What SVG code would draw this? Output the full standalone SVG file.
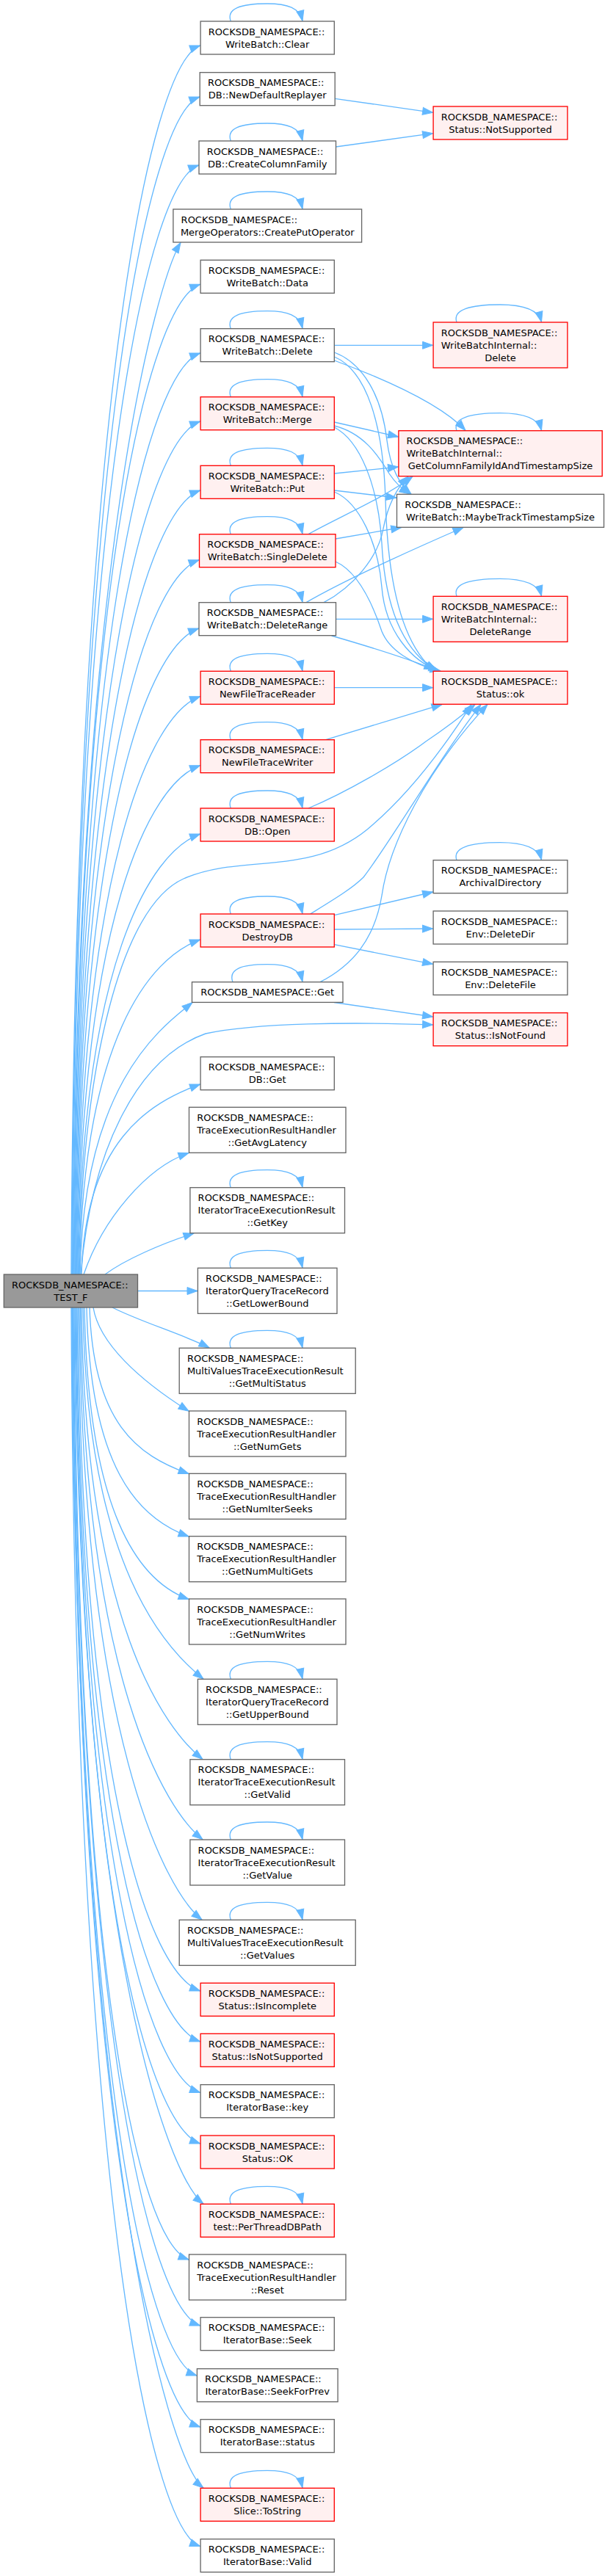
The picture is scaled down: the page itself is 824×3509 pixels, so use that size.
<svg xmlns="http://www.w3.org/2000/svg" width="824" height="3509" viewBox="0 0 824 3509">
<style>
.e{fill:none;stroke:#63b8ff;stroke-width:1.33;marker-end:url(#ah)}
.n{fill:#fff;stroke:#666;stroke-width:1.33}
.r{fill:#fff0f0;stroke:#f00;stroke-width:1.33}
.m{fill:#999;stroke:#666;stroke-width:1.33}
text{font-family:"DejaVu Sans",sans-serif;font-size:13px;fill:#000}
.c{text-anchor:middle}
</style>
<defs>
<marker id="ah" markerWidth="15" markerHeight="11" refX="14" refY="5" orient="auto" markerUnits="userSpaceOnUse" overflow="visible"><path d="M0,0 L14,5 L0,10 z" fill="#63b8ff" stroke="#63b8ff" stroke-width="1"/></marker>
</defs>
<rect x="0" y="0" width="824" height="3509" fill="#fff"/>
<g id="edges">
<path class="e" d="M97,1736 C102,564 203,87 272.6,62"/>
<path class="e" d="M97.8,1736 C102.8,613 202,157 271.8,132"/>
<path class="e" d="M98.6,1736 C103.6,678 201,250 270.6,225"/>
<path class="e" d="M99.4,1736 C104.4,752 215,382 246,330.5"/>
<path class="e" d="M100.2,1736 C105.2,792 203,412 272.6,387.3"/>
<path class="e" d="M101,1736 C106,857 203,506 272.6,481"/>
<path class="e" d="M101.8,1736 C106.8,922.6 203,599 272.6,574"/>
<path class="e" d="M102.6,1736 C107.6,988 203,693 272.6,668"/>
<path class="e" d="M103.4,1736 C108.4,1054.7 201.5,787.7 271.1,762.7"/>
<path class="e" d="M104.2,1736 C109.2,1120 201,881 270.6,856"/>
<path class="e" d="M105,1736 C110,1185 203,973.7 272.6,948.7"/>
<path class="e" d="M105.8,1736 C110.8,1250.7 203,1067.7 272.6,1042.7"/>
<path class="e" d="M106.6,1736 C111.6,1316 203,1161 272.6,1136"/>
<path class="e" d="M107.4,1736 C112,1450 165,1235 250,1197 C330,1162 420,1195 500,1130 C560,1080 610,1010 642,959.8"/>
<path class="e" d="M108.2,1736 C113.2,1416.8 203,1305 272.6,1280"/>
<path class="e" d="M109,1736 C114,1476 219,1400 262,1365.6"/>
<path class="e" d="M110,1736 C125,1560 190,1440 280,1408 C350,1393 480,1392 589.6,1396"/>
<path class="e" d="M111,1736 C116,1555 203,1502 272.6,1477"/>
<path class="e" d="M114,1736 C140,1660 200,1590 257,1570.5"/>
<path class="e" d="M143,1736 C170,1716 220,1694 264,1680"/>
<path class="e" d="M187.5,1758.5 L269,1758.5"/>
<path class="e" d="M153,1781 C190,1800 250,1818 285,1835.8"/>
<path class="e" d="M127,1781 C135,1830 190,1880 257.1,1922.3"/>
<path class="e" d="M122,1781 C127,1939.5 187.5,1982.5 257.1,2007.5"/>
<path class="e" d="M118,1781 C123,1999.4 187.5,2068 257.1,2093"/>
<path class="e" d="M115,1781 C120,2059 187.5,2153.5 257.1,2178.5"/>
<path class="e" d="M113,1781 C118,2135 227,2247 277,2287"/>
<path class="e" d="M111,1781 C116,2212 226,2356.7 276,2396.4"/>
<path class="e" d="M109.5,1781 C114.5,2288.5 226,2466 276,2505.7"/>
<path class="e" d="M108,1781 C113,2365 225,2575.3 275,2615"/>
<path class="e" d="M106.5,1781 C111.5,2432.7 203,2687 272.6,2712"/>
<path class="e" d="M105,1781 C110,2481 203,2756 272.6,2781"/>
<path class="e" d="M104,1781 C109,2529.6 203,2825.5 272.6,2850.5"/>
<path class="e" d="M103,1781 C108,2578.3 203,2895 272.6,2920"/>
<path class="e" d="M102,1781 C107,2636 227,2962.3 277,3002"/>
<path class="e" d="M101,1781 C106,2689 187.5,3053 257.1,3078"/>
<path class="e" d="M100,1781 C105,2752 203,3143 272.6,3168"/>
<path class="e" d="M99.2,1781 C104.2,2799.5 198.4,3211 268,3236"/>
<path class="e" d="M98.5,1781 C103.5,2848.5 203,3281 272.6,3306"/>
<path class="e" d="M97.8,1781 C102.8,2906.8 227,3349.3 277,3389"/>
<path class="e" d="M97,1781 C102,2962.4 203,3443.5 272.6,3468.5"/>
<path class="e" d="M456.2,134.3 L589.6,153.3"/>
<path class="e" d="M457.5,200 L589.6,181.7"/>
<path class="e" d="M455.3,470.3 L589.6,470.3"/>
<path class="e" d="M455.3,491 C520,515 600,550 634,586.3"/>
<path class="e" d="M455.3,480 C495,495 520,540 527,600 C532,640 545,660 560,673"/>
<path class="e" d="M455.3,486 C500,505 522,580 525,680 C528,800 550,880 592,914"/>
<path class="e" d="M455.3,575 L542.5,595"/>
<path class="e" d="M455.3,580 C495,590 515,620 530,645 C540,660 550,668 558,673"/>
<path class="e" d="M455.3,582 C490,600 515,660 520,740 C525,840 555,890 595,914"/>
<path class="e" d="M455.3,645 L542.5,636"/>
<path class="e" d="M455.3,668 L540,678"/>
<path class="e" d="M455.3,670 C490,685 515,740 520,800 C525,860 560,900 598,914"/>
<path class="e" d="M420,727.7 C460,705 520,680 562,649"/>
<path class="e" d="M457,734 L546.7,718.5"/>
<path class="e" d="M457,765 C490,780 510,830 520,860 C530,885 560,905 600,914"/>
<path class="e" d="M457.5,843.3 L589.6,843.3"/>
<path class="e" d="M417,820.7 C470,790 570,745 631,718.5"/>
<path class="e" d="M441,820.7 C480,800 515,760 522,720 C528,690 540,665 556,649"/>
<path class="e" d="M451.6,866 C500,880 550,895 592,912"/>
<path class="e" d="M455.3,936.7 L589.6,936.7"/>
<path class="e" d="M443.7,1007.7 L602,959.6"/>
<path class="e" d="M420,1101 C470,1080 540,1040 580,1010 C610,990 635,970 647,959.6"/>
<path class="e" d="M422.6,1245 C455,1225 480,1210 495,1195 C530,1150 600,1030 655,959.6"/>
<path class="e" d="M436,1337.7 C480,1315 510,1280 520,1220 C530,1150 580,1050 664,959.6"/>
<path class="e" d="M455.3,1246.7 L589.6,1215"/>
<path class="e" d="M455.3,1266 L589.6,1265"/>
<path class="e" d="M455.3,1286.7 L589.6,1313.3"/>
<path class="e" d="M455,1365.5 L589.6,1385"/>
<g id="loops2">
<path class="e" transform="translate(0,29)" d="M314.3,0 C308,-17 327,-24 364,-24 C392,-24 408,-18 412,-0.5"/>
<path class="e" transform="translate(0,192)" d="M314.3,0 C308,-17 327,-24 364,-24 C392,-24 408,-18 412,-0.5"/>
<path class="e" transform="translate(0,285)" d="M314.3,0 C308,-17 327,-24 364,-24 C392,-24 408,-18 412,-0.5"/>
<path class="e" transform="translate(0,447.7)" d="M314.3,0 C308,-17 327,-24 364,-24 C392,-24 408,-18 412,-0.5"/>
<path class="e" transform="translate(0,540.7)" d="M314.3,0 C308,-17 327,-24 364,-24 C392,-24 408,-18 412,-0.5"/>
<path class="e" transform="translate(0,634.3)" d="M314.3,0 C308,-17 327,-24 364,-24 C392,-24 408,-18 412,-0.5"/>
<path class="e" transform="translate(0,727.7)" d="M314.3,0 C308,-17 327,-24 364,-24 C392,-24 408,-18 412,-0.5"/>
<path class="e" transform="translate(0,820.7)" d="M314.3,0 C308,-17 327,-24 364,-24 C392,-24 408,-18 412,-0.5"/>
<path class="e" transform="translate(0,914.3)" d="M314.3,0 C308,-17 327,-24 364,-24 C392,-24 408,-18 412,-0.5"/>
<path class="e" transform="translate(0,1007.7)" d="M314.3,0 C308,-17 327,-24 364,-24 C392,-24 408,-18 412,-0.5"/>
<path class="e" transform="translate(0,1101)" d="M314.3,0 C308,-17 327,-24 364,-24 C392,-24 408,-18 412,-0.5"/>
<path class="e" transform="translate(0,1245)" d="M314.3,0 C308,-17 327,-24 364,-24 C392,-24 408,-18 412,-0.5"/>
<path class="e" transform="translate(0,1337.7)" d="M317,0 C311,-17 327,-24 364,-24 C392,-24 408,-18 412,-0.5"/>
<path class="e" transform="translate(0,1617.7)" d="M314.3,0 C308,-17 327,-24 364,-24 C392,-24 408,-18 412,-0.5"/>
<path class="e" transform="translate(0,1727.3)" d="M314.3,0 C308,-17 327,-24 364,-24 C392,-24 408,-18 412,-0.5"/>
<path class="e" transform="translate(0,1836.3)" d="M314.3,0 C308,-17 327,-24 364,-24 C392,-24 408,-18 412,-0.5"/>
<path class="e" transform="translate(0,2287.3)" d="M314.3,0 C308,-17 327,-24 364,-24 C392,-24 408,-18 412,-0.5"/>
<path class="e" transform="translate(0,2396.7)" d="M314.3,0 C308,-17 327,-24 364,-24 C392,-24 408,-18 412,-0.5"/>
<path class="e" transform="translate(0,2506)" d="M314.3,0 C308,-17 327,-24 364,-24 C392,-24 408,-18 412,-0.5"/>
<path class="e" transform="translate(0,2615.3)" d="M314.3,0 C308,-17 327,-24 364,-24 C392,-24 408,-18 412,-0.5"/>
<path class="e" transform="translate(0,3002.3)" d="M314.3,0 C308,-17 327,-24 364,-24 C392,-24 408,-18 412,-0.5"/>
<path class="e" transform="translate(0,3389.3)" d="M314.3,0 C308,-17 327,-24 364,-24 C392,-24 408,-18 412,-0.5"/>
</g>
<g id="loops3">
<path class="e" transform="translate(0,439)" d="M622,0 C616,-17 640,-24 681,-24 C712,-24 733,-18 737.5,-0.5"/>
<path class="e" transform="translate(0,586.7)" d="M622,0 C616,-17 640,-24 681,-24 C712,-24 733,-18 737.5,-0.5"/>
<path class="e" transform="translate(0,812.3)" d="M622,0 C616,-17 640,-24 681,-24 C712,-24 733,-18 737.5,-0.5"/>
<path class="e" transform="translate(0,1171.7)" d="M622,0 C616,-17 640,-24 681,-24 C712,-24 733,-18 737.5,-0.5"/>
</g>
</g>
<g id="n_testf"><rect class="m" x="5.3" y="1736" width="182.2" height="45"/><text x="16" y="1754.5">ROCKSDB_NAMESPACE::</text><text class="c" x="96.4" y="1771.5">TEST_F</text></g>
<g id="n_clear"><rect class="n" x="273.1" y="29" width="182.2" height="45"/><text x="283.8" y="47.5">ROCKSDB_NAMESPACE::</text><text class="c" x="364.2" y="64.5">WriteBatch::Clear</text></g>
<g id="n_ndr"><rect class="n" x="272.2" y="98.7" width="184" height="45"/><text x="282.9" y="117.2">ROCKSDB_NAMESPACE::</text><text class="c" x="364.2" y="134.2">DB::NewDefaultReplayer</text></g>
<g id="n_ccf"><rect class="n" x="271" y="192" width="186.5" height="45"/><text x="281.7" y="210.5">ROCKSDB_NAMESPACE::</text><text class="c" x="364.2" y="227.5">DB::CreateColumnFamily</text></g>
<g id="n_cpo"><rect class="n" x="235.9" y="285" width="256.7" height="45"/><text x="246.6" y="303.5">ROCKSDB_NAMESPACE::</text><text class="c" x="364.2" y="320.5">MergeOperators::CreatePutOperator</text></g>
<g id="n_data"><rect class="n" x="273.1" y="354.3" width="182.2" height="45"/><text x="283.8" y="372.8">ROCKSDB_NAMESPACE::</text><text class="c" x="364.2" y="389.8">WriteBatch::Data</text></g>
<g id="n_delete"><rect class="n" x="273.1" y="447.7" width="182.2" height="45"/><text x="283.8" y="466.2">ROCKSDB_NAMESPACE::</text><text class="c" x="364.2" y="483.2">WriteBatch::Delete</text></g>
<g id="n_merge"><rect class="r" x="273.1" y="540.7" width="182.2" height="45"/><text x="283.8" y="559.2">ROCKSDB_NAMESPACE::</text><text class="c" x="364.2" y="576.2">WriteBatch::Merge</text></g>
<g id="n_put"><rect class="r" x="273.1" y="634.3" width="182.2" height="45"/><text x="283.8" y="652.8">ROCKSDB_NAMESPACE::</text><text class="c" x="364.2" y="669.8">WriteBatch::Put</text></g>
<g id="n_sdel"><rect class="r" x="271.5" y="727.7" width="185.5" height="45"/><text x="282.2" y="746.2">ROCKSDB_NAMESPACE::</text><text class="c" x="364.2" y="763.2">WriteBatch::SingleDelete</text></g>
<g id="n_drange"><rect class="n" x="271" y="820.7" width="186.5" height="45"/><text x="281.7" y="839.2">ROCKSDB_NAMESPACE::</text><text class="c" x="364.2" y="856.2">WriteBatch::DeleteRange</text></g>
<g id="n_nftr"><rect class="r" x="273.1" y="914.3" width="182.2" height="45"/><text x="283.8" y="932.8">ROCKSDB_NAMESPACE::</text><text class="c" x="364.2" y="949.8">NewFileTraceReader</text></g>
<g id="n_nftw"><rect class="r" x="273.1" y="1007.7" width="182.2" height="45"/><text x="283.8" y="1026.2">ROCKSDB_NAMESPACE::</text><text class="c" x="364.2" y="1043.2">NewFileTraceWriter</text></g>
<g id="n_open"><rect class="r" x="273.1" y="1101" width="182.2" height="45"/><text x="283.8" y="1119.5">ROCKSDB_NAMESPACE::</text><text class="c" x="364.2" y="1136.5">DB::Open</text></g>
<g id="n_destroy"><rect class="r" x="273.1" y="1245" width="182.2" height="45"/><text x="283.8" y="1263.5">ROCKSDB_NAMESPACE::</text><text class="c" x="364.2" y="1280.5">DestroyDB</text></g>
<g id="n_get"><rect class="n" x="261.5" y="1337.7" width="205.5" height="27.7"/><text class="c" x="364.2" y="1356">ROCKSDB_NAMESPACE::Get</text></g>
<g id="n_dbget"><rect class="n" x="273.1" y="1439.7" width="182.2" height="45"/><text x="283.8" y="1458.2">ROCKSDB_NAMESPACE::</text><text class="c" x="364.2" y="1475.2">DB::Get</text></g>
<g id="n_avglat"><rect class="n" x="257.5" y="1508.3" width="213.5" height="62"/><text x="268.2" y="1526.8">ROCKSDB_NAMESPACE::</text><text x="268.2" y="1543.8">TraceExecutionResultHandler</text><text class="c" x="364.2" y="1560.8">::GetAvgLatency</text></g>
<g id="n_getkey"><rect class="n" x="258.9" y="1617.7" width="210.6" height="62"/><text x="269.6" y="1636.2">ROCKSDB_NAMESPACE::</text><text x="269.6" y="1653.2">IteratorTraceExecutionResult</text><text class="c" x="364.2" y="1670.2">::GetKey</text></g>
<g id="n_lower"><rect class="n" x="269.4" y="1727.3" width="189.6" height="62"/><text x="280.1" y="1745.8">ROCKSDB_NAMESPACE::</text><text x="280.1" y="1762.8">IteratorQueryTraceRecord</text><text class="c" x="364.2" y="1779.8">::GetLowerBound</text></g>
<g id="n_multistatus"><rect class="n" x="244.2" y="1836.3" width="240" height="62"/><text x="254.9" y="1854.8">ROCKSDB_NAMESPACE::</text><text x="254.9" y="1871.8">MultiValuesTraceExecutionResult</text><text class="c" x="364.2" y="1888.8">::GetMultiStatus</text></g>
<g id="n_numgets"><rect class="n" x="257.5" y="1922" width="213.5" height="62"/><text x="268.2" y="1940.5">ROCKSDB_NAMESPACE::</text><text x="268.2" y="1957.5">TraceExecutionResultHandler</text><text class="c" x="364.2" y="1974.5">::GetNumGets</text></g>
<g id="n_numiterseeks"><rect class="n" x="257.5" y="2007.3" width="213.5" height="62"/><text x="268.2" y="2025.8">ROCKSDB_NAMESPACE::</text><text x="268.2" y="2042.8">TraceExecutionResultHandler</text><text class="c" x="364.2" y="2059.8">::GetNumIterSeeks</text></g>
<g id="n_nummultigets"><rect class="n" x="257.5" y="2092.7" width="213.5" height="62"/><text x="268.2" y="2111.2">ROCKSDB_NAMESPACE::</text><text x="268.2" y="2128.2">TraceExecutionResultHandler</text><text class="c" x="364.2" y="2145.2">::GetNumMultiGets</text></g>
<g id="n_numwrites"><rect class="n" x="257.5" y="2178" width="213.5" height="62"/><text x="268.2" y="2196.5">ROCKSDB_NAMESPACE::</text><text x="268.2" y="2213.5">TraceExecutionResultHandler</text><text class="c" x="364.2" y="2230.5">::GetNumWrites</text></g>
<g id="n_upper"><rect class="n" x="269.4" y="2287.3" width="189.6" height="62"/><text x="280.1" y="2305.8">ROCKSDB_NAMESPACE::</text><text x="280.1" y="2322.8">IteratorQueryTraceRecord</text><text class="c" x="364.2" y="2339.8">::GetUpperBound</text></g>
<g id="n_getvalid"><rect class="n" x="258.9" y="2396.7" width="210.6" height="62"/><text x="269.6" y="2415.2">ROCKSDB_NAMESPACE::</text><text x="269.6" y="2432.2">IteratorTraceExecutionResult</text><text class="c" x="364.2" y="2449.2">::GetValid</text></g>
<g id="n_getvalue"><rect class="n" x="258.9" y="2506" width="210.6" height="62"/><text x="269.6" y="2524.5">ROCKSDB_NAMESPACE::</text><text x="269.6" y="2541.5">IteratorTraceExecutionResult</text><text class="c" x="364.2" y="2558.5">::GetValue</text></g>
<g id="n_getvalues"><rect class="n" x="244.2" y="2615.3" width="240" height="62"/><text x="254.9" y="2633.8">ROCKSDB_NAMESPACE::</text><text x="254.9" y="2650.8">MultiValuesTraceExecutionResult</text><text class="c" x="364.2" y="2667.8">::GetValues</text></g>
<g id="n_isincomplete"><rect class="r" x="273.1" y="2701.3" width="182.2" height="45"/><text x="283.8" y="2719.8">ROCKSDB_NAMESPACE::</text><text class="c" x="364.2" y="2736.8">Status::IsIncomplete</text></g>
<g id="n_isnotsupported"><rect class="r" x="273.1" y="2770.3" width="182.2" height="45"/><text x="283.8" y="2788.8">ROCKSDB_NAMESPACE::</text><text class="c" x="364.2" y="2805.8">Status::IsNotSupported</text></g>
<g id="n_key"><rect class="n" x="273.1" y="2839.7" width="182.2" height="45"/><text x="283.8" y="2858.2">ROCKSDB_NAMESPACE::</text><text class="c" x="364.2" y="2875.2">IteratorBase::key</text></g>
<g id="n_statusok"><rect class="r" x="273.1" y="2909" width="182.2" height="45"/><text x="283.8" y="2927.5">ROCKSDB_NAMESPACE::</text><text class="c" x="364.2" y="2944.5">Status::OK</text></g>
<g id="n_perthread"><rect class="r" x="273.1" y="3002.3" width="182.2" height="45"/><text x="283.8" y="3020.8">ROCKSDB_NAMESPACE::</text><text class="c" x="364.2" y="3037.8">test::PerThreadDBPath</text></g>
<g id="n_reset"><rect class="n" x="257.5" y="3071" width="213.5" height="62"/><text x="268.2" y="3089.5">ROCKSDB_NAMESPACE::</text><text x="268.2" y="3106.5">TraceExecutionResultHandler</text><text class="c" x="364.2" y="3123.5">::Reset</text></g>
<g id="n_seek"><rect class="n" x="273.1" y="3156.7" width="182.2" height="45"/><text x="283.8" y="3175.2">ROCKSDB_NAMESPACE::</text><text class="c" x="364.2" y="3192.2">IteratorBase::Seek</text></g>
<g id="n_seekforprev"><rect class="n" x="268.4" y="3226.7" width="191.7" height="45"/><text x="279.1" y="3245.2">ROCKSDB_NAMESPACE::</text><text class="c" x="364.2" y="3262.2">IteratorBase::SeekForPrev</text></g>
<g id="n_status"><rect class="n" x="273.1" y="3295.7" width="182.2" height="45"/><text x="283.8" y="3314.2">ROCKSDB_NAMESPACE::</text><text class="c" x="364.2" y="3331.2">IteratorBase::status</text></g>
<g id="n_tostring"><rect class="r" x="273.1" y="3389.3" width="182.2" height="45"/><text x="283.8" y="3407.8">ROCKSDB_NAMESPACE::</text><text class="c" x="364.2" y="3424.8">Slice::ToString</text></g>
<g id="n_valid"><rect class="n" x="273.1" y="3458.7" width="182.2" height="45"/><text x="283.8" y="3477.2">ROCKSDB_NAMESPACE::</text><text class="c" x="364.2" y="3494.2">IteratorBase::Valid</text></g>
<g id="c_notsup"><rect class="r" x="590.1" y="145" width="182.8" height="45"/><text x="600.8" y="163.5">ROCKSDB_NAMESPACE::</text><text class="c" x="681.5" y="180.5">Status::NotSupported</text></g>
<g id="c_wbidel"><rect class="r" x="590.1" y="439" width="182.8" height="62"/><text x="600.8" y="457.5">ROCKSDB_NAMESPACE::</text><text x="600.8" y="474.5">WriteBatchInternal::</text><text class="c" x="681.5" y="491.5">Delete</text></g>
<g id="c_gcf"><rect class="r" x="542.9" y="586.7" width="277.3" height="62"/><text x="553.6" y="605.2">ROCKSDB_NAMESPACE::</text><text x="553.6" y="622.2">WriteBatchInternal::</text><text class="c" x="681.5" y="639.2">GetColumnFamilyIdAndTimestampSize</text></g>
<g id="c_maybe"><rect class="n" x="540.5" y="673.3" width="282" height="45"/><text x="551.2" y="691.8">ROCKSDB_NAMESPACE::</text><text class="c" x="681.5" y="708.8">WriteBatch::MaybeTrackTimestampSize</text></g>
<g id="c_wbidr"><rect class="r" x="590.1" y="812.3" width="182.8" height="62"/><text x="600.8" y="830.8">ROCKSDB_NAMESPACE::</text><text x="600.8" y="847.8">WriteBatchInternal::</text><text class="c" x="681.5" y="864.8">DeleteRange</text></g>
<g id="c_ok"><rect class="r" x="590.1" y="914.3" width="182.8" height="45"/><text x="600.8" y="932.8">ROCKSDB_NAMESPACE::</text><text class="c" x="681.5" y="949.8">Status::ok</text></g>
<g id="c_archival"><rect class="n" x="590.1" y="1171.7" width="182.8" height="45"/><text x="600.8" y="1190.2">ROCKSDB_NAMESPACE::</text><text class="c" x="681.5" y="1207.2">ArchivalDirectory</text></g>
<g id="c_deldir"><rect class="n" x="590.1" y="1241" width="182.8" height="45"/><text x="600.8" y="1259.5">ROCKSDB_NAMESPACE::</text><text class="c" x="681.5" y="1276.5">Env::DeleteDir</text></g>
<g id="c_delfile"><rect class="n" x="590.1" y="1310.3" width="182.8" height="45"/><text x="600.8" y="1328.8">ROCKSDB_NAMESPACE::</text><text class="c" x="681.5" y="1345.8">Env::DeleteFile</text></g>
<g id="c_isnotfound"><rect class="r" x="590.1" y="1379.7" width="182.8" height="45"/><text x="600.8" y="1398.2">ROCKSDB_NAMESPACE::</text><text class="c" x="681.5" y="1415.2">Status::IsNotFound</text></g>
</svg>
